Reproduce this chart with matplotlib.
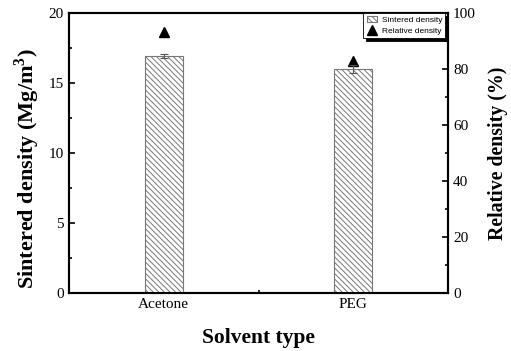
import matplotlib
matplotlib.use("Agg")
import matplotlib.pyplot as plt
from matplotlib.ticker import MultipleLocator
import numpy as np

# data
solvents = ['Acetone', 'PEG']
sintered = [16.93, 16.02]
sintered_err = [0.15, 0.3]
relative = [93.2, 83.0]

plt.rcParams['font.family'] = 'Liberation Serif'
plt.rcParams['hatch.linewidth'] = 0.7
plt.rcParams['hatch.color'] = '#555555'

fig = plt.figure(figsize=(5.11, 3.51), dpi=100)
ax = fig.add_axes([0.135, 0.165, 0.742, 0.798])
ax2 = ax.twinx()

x = np.arange(len(solvents))
bars = ax.bar(x, sintered, width=0.2, yerr=sintered_err, color='white',
              edgecolor='#777777', hatch='\\' * 6, linewidth=0.8,
              error_kw=dict(ecolor='#555555', elinewidth=0.8, capsize=3, capthick=0.8),
              label='Sintered density', zorder=2)
tri, = ax2.plot(x, relative, '^', color='black', markersize=7, linestyle='none',
                label='Relative density')

ax.set_xlim(-0.5, 1.5)
ax.set_ylim(0, 20)
ax2.set_ylim(0, 100)
ax.set_xticks(x)
ax.set_xticklabels(solvents)
ax.xaxis.set_minor_locator(MultipleLocator(0.5))
ax.yaxis.set_major_locator(MultipleLocator(5))
ax.yaxis.set_minor_locator(MultipleLocator(2.5))
ax2.yaxis.set_major_locator(MultipleLocator(20))
ax2.yaxis.set_minor_locator(MultipleLocator(10))

for a in (ax, ax2):
    a.tick_params(which='both', direction='in', labelsize=11, width=1.2)
    a.tick_params(which='major', length=4)
    a.tick_params(which='minor', length=2.5)
    for s in a.spines.values():
        s.set_linewidth(1.5)
ax.tick_params(axis='x', which='both', top=False)

ax.set_xlabel('Solvent type', fontsize=15.5, fontweight='bold', labelpad=12)
ax.set_ylabel('Sintered density (Mg/m$^\\mathregular{3}$)', fontsize=16, fontweight='bold')
ax.yaxis.set_label_coords(-0.07, 0.445)
ax2.set_ylabel('Relative density (%)', fontsize=14.3, fontweight='bold', labelpad=9)

leg = ax.legend([bars, tri], ['Sintered density', 'Relative density'],
                loc='upper right', bbox_to_anchor=(0.993, 1.0), borderaxespad=0,
                prop={'family': 'Liberation Sans', 'size': 6},
                frameon=True, fancybox=False, shadow={'color': 'black', 'alpha': 1},
                edgecolor='black', borderpad=0.4, labelspacing=0.35,
                handlelength=1.3, handletextpad=0.5)
leg.get_frame().set_linewidth(0.6)
ax.set_zorder(ax2.get_zorder() + 1)
ax.patch.set_visible(False)

fig.savefig('out.png', dpi=100)
